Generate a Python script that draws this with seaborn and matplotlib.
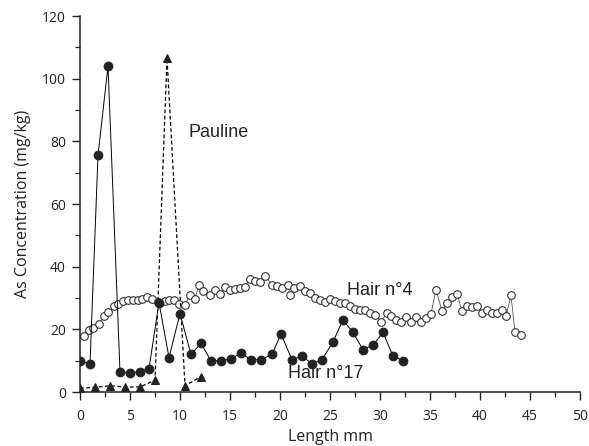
import matplotlib
matplotlib.use("Agg")
import matplotlib.pyplot as plt
import seaborn as sns
import numpy as np
from matplotlib.ticker import MultipleLocator

# Hair n°17 (filled circles, solid line)
hair17_x = [0, 1, 1.8, 2.8, 4, 5, 6, 6.9, 7.9, 8.9, 10, 11.1, 12.1, 13.1, 14.1, 15.1,
            16.1, 17.1, 18.1, 19.2, 20.1, 21.2, 22.2, 23.2, 24.2, 25.3, 26.3, 27.3,
            28.3, 29.3, 30.3, 31.3, 32.3]
hair17_y = [10, 9, 75.5, 104, 6.5, 6, 6.5, 7.5, 28.5, 11, 25, 12, 15.5, 10, 10, 10.5,
            12.5, 10.3, 10.3, 12, 18.5, 10.3, 11.5, 9, 10.3, 16, 23, 19,
            13.5, 15, 19, 11.5, 10]

# Pauline (filled triangles, dashed line)
pauline_x = [0, 1.5, 3, 4.5, 6, 7.5, 8.7, 10.5, 12.1]
pauline_y = [1.2, 1.5, 2, 1.6, 1.6, 3.8, 106.5, 2, 4.9]

# Hair n°4 (open circles)
hair4_x = [0.4, 0.9, 1.3, 1.9, 2.4, 2.8, 3.4, 3.8, 4.3, 4.8, 5.3, 5.8, 6.2, 6.7, 7.2,
           7.8, 8.5, 8.9, 9.4, 9.9, 10.5, 11.0, 11.5, 11.9, 12.3, 13.0, 13.5, 14.0,
           14.5, 15.0, 15.5, 16.0, 16.5, 17.0, 17.5, 18.0, 18.5, 19.2, 19.7, 20.2,
           20.8, 21.0, 21.4, 22.0, 22.5, 23.0, 23.5, 24.0, 24.5, 25.0, 25.5, 26.0,
           26.5, 27.0, 27.5, 28.0, 28.5, 29.0, 29.5, 30.1, 30.7, 31.1, 31.6, 32.1,
           32.6, 33.1, 33.6, 34.1, 34.6, 35.1, 35.6, 36.2, 36.7, 37.2, 37.7, 38.2,
           38.7, 39.2, 39.7, 40.2, 40.7, 41.2, 41.7, 42.2, 42.6, 43.1, 43.5, 44.1]
hair4_y = [18, 19.9, 20.4, 21.7, 24.4, 25.4, 27.3, 28.2, 28.9, 29.3, 29.3, 29.5, 29.6,
           30.3, 29.6, 28.6, 28.9, 29.5, 29.3, 28.1, 27.9, 30.8, 29.7, 34.3, 32.1,
           30.8, 32.5, 31.3, 33.6, 32.5, 33, 33.2, 33.6, 36.1, 35.4, 35.0, 37.0,
           34.3, 33.8, 33.2, 34.3, 30.8, 33.2, 33.8, 32.1, 31.6, 30.0, 29.3, 28.6,
           29.7, 28.9, 28.4, 28.4, 27.3, 26.5, 26.3, 26.3, 25.2, 24.7, 22.5, 25.2,
           24.1, 23.1, 22.5, 23.9, 22.5, 23.9, 22.5, 23.6, 24.9, 32.7, 25.8, 28.3,
           30.3, 31.4, 25.8, 27.6, 27.1, 27.6, 25.2, 26.3, 25.2, 25.2, 26.3, 24.1,
           30.9, 19.0, 18.3]

labels = {"Pauline": (10.9, 81.5), "Hair n°4": (26.7, 30.9), "Hair n°17": (20.8, 4.4)}

sns.set_style("ticks")
plt.rcParams['font.family'] = ['Open Sans', 'DejaVu Sans']

fig = plt.figure(figsize=(5.89, 4.46), dpi=100)
ax = fig.add_axes([80/589, 1-392/446, 500/589, 376/446])

sns.lineplot(x=hair4_x, y=hair4_y, ax=ax, sort=False, color="#555555", linewidth=0.6,
             marker="o", markersize=5.5, markerfacecolor="white",
             markeredgecolor="#333333", markeredgewidth=0.8, zorder=2)
sns.lineplot(x=pauline_x, y=pauline_y, ax=ax, sort=False, color="black", linewidth=0.9,
             linestyle=(0, (3, 2)), marker="^", markersize=6, markerfacecolor="#222222",
             markeredgecolor="#222222", zorder=3)
sns.lineplot(x=hair17_x, y=hair17_y, ax=ax, sort=False, color="black", linewidth=0.7,
             marker="o", markersize=6.3, markerfacecolor="#222222",
             markeredgecolor="#222222", zorder=4)

for txt, (lx, ly) in labels.items():
    ax.text(lx, ly, txt, fontsize=13, family=['Liberation Sans', 'DejaVu Sans'],
            va="baseline", ha="left", color="#222222")

ax.set_xlim(0, 50)
ax.set_ylim(0, 120)
ax.xaxis.set_major_locator(MultipleLocator(5))
ax.xaxis.set_minor_locator(MultipleLocator(2.5))
ax.yaxis.set_major_locator(MultipleLocator(20))
ax.yaxis.set_minor_locator(MultipleLocator(10))
ax.tick_params(axis="both", which="major", direction="out", length=6, width=1,
               labelsize=10, colors="#222222", pad=4)
ax.tick_params(axis="x", which="major", pad=6)
ax.tick_params(axis="both", which="minor", direction="out", length=3.5, width=0.9,
               colors="#222222")
for s in ["top", "right"]:
    ax.spines[s].set_visible(False)
for s in ["left", "bottom"]:
    ax.spines[s].set_linewidth(1.1)
    ax.spines[s].set_color("#222222")

ax.set_xlabel("Length mm", fontsize=11.5, color="#222222", labelpad=4)
ax.set_ylabel("As Concentration (mg/kg)", fontsize=11.5, color="#222222", labelpad=8)

fig.savefig("out.png", dpi=100)
